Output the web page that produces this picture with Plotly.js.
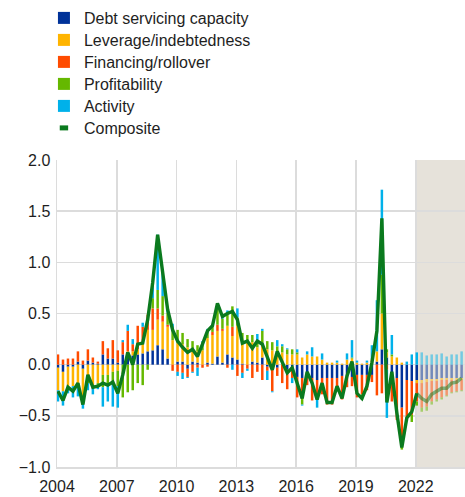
<!DOCTYPE html>
<html>
<head>
<meta charset="utf-8">
<script src="https://cdn.plot.ly/plotly-3.0.1.min.js"></script>
<style>html,body{margin:0;padding:0;background:#fff;}#chart{width:465px;height:497px;}</style>
</head>
<body>
<div id="chart"></div>
<script>
// Quarterly data, 2004Q1 .. 2024Q2
const startYear = 2004;
const firstProjectedBar = 73;   // bars from this index on are projections
const lastActualPoint = 72;     // composite line becomes projection after this index

const debtServicing = [
 -0.03,-0.07,-0.02,-0.02, 0.03,-0.04, 0.04, 0.02, 0.01, 0.10,
  0.06, 0.06, 0.02, 0.10, 0.10, 0.09, 0.10, 0.11, 0.13, 0.14,
  0.19, 0.15, 0.06, 0.00, 0.03, 0.03,-0.04, 0.03, 0.02, 0.00,
  0.02, 0.01, 0.08, 0.02, 0.10, 0.07, 0.05, 0.01, 0.00, 0.03,
  0.02, 0.07,-0.02, 0.01,-0.03, 0.00,-0.05,-0.03,-0.12,-0.13,
 -0.10,-0.13,-0.15,-0.13,-0.13,-0.13,-0.13,-0.11,-0.12,-0.12,
 -0.10,-0.10,-0.10,-0.10, 0.03, 0.15, 0.07,-0.15,-0.13,-0.42,
 -0.15,-0.16,-0.15,-0.15,-0.14,-0.14,-0.14,-0.13,-0.13,-0.13,
 -0.13,-0.13];
const leverage = [
 -0.22,-0.19,-0.21,-0.19,-0.18,-0.29,-0.15,-0.20,-0.18,-0.10,
 -0.10,-0.07,-0.06, 0.00, 0.03, 0.04, 0.05, 0.10, 0.21, 0.20,
  0.25, 0.27, 0.31, 0.24, 0.18, 0.17, 0.17, 0.13, 0.11, 0.14,
  0.24, 0.28, 0.25, 0.31, 0.28, 0.21, 0.33, 0.22, 0.22, 0.19,
  0.15, 0.12, 0.15, 0.13, 0.12, 0.12, 0.10, 0.10, 0.10, 0.07,
  0.10, 0.08, 0.08, 0.05, 0.02, 0.02, 0.02, 0.01, 0.05, 0.06,
  0.02, 0.01, 0.02, 0.05, 0.10, 0.35, 0.05, 0.08, 0.07, 0.02,
  0.00, 0.00,-0.03,-0.03,-0.03,-0.02,-0.02,-0.02,-0.02,-0.02,
 -0.02,-0.02];
const financing = [
  0.10, 0.05, 0.06, 0.06, 0.10, 0.04, 0.11, 0.05, 0.02, 0.13,
  0.10, 0.18, 0.12, 0.12, 0.20, 0.07, 0.23, 0.16, 0.15, 0.21,
  0.11, 0.06, 0.02,-0.06,-0.07,-0.08,-0.08,-0.07,-0.03,-0.03,
 -0.02, 0.03, 0.06, 0.02,-0.03, 0.09,-0.11,-0.08,-0.04,-0.13,
 -0.07,-0.15,-0.04,-0.26,-0.08,-0.18,-0.19,-0.10,-0.20,-0.20,
 -0.10,-0.22,-0.18,-0.16,-0.26,-0.26,-0.12,-0.23,-0.10,-0.09,
 -0.22,-0.19,-0.15,-0.07,-0.30,-0.28,-0.05,-0.21,-0.41,-0.34,
 -0.40,-0.33,-0.18,-0.24,-0.24,-0.20,-0.18,-0.17,-0.15,-0.12,
 -0.11,-0.10];
const profitability = [
  0.00, 0.00, 0.00, 0.00,-0.03, 0.00,-0.03,-0.01,-0.03,-0.12,
 -0.10,-0.12,-0.15,-0.32,-0.27,-0.25,-0.18,-0.20,-0.05, 0.10,
  0.18, 0.19, 0.12, 0.10, 0.13, 0.11, 0.08, 0.07, 0.06, 0.08,
  0.07, 0.06, 0.20, 0.10, 0.12, 0.20, 0.08, 0.08, 0.07, 0.07,
  0.05, 0.14, 0.08, 0.08, 0.06, 0.06, 0.05, 0.05, 0.02,-0.06,
  0.00, 0.00, 0.00, 0.00, 0.00, 0.00, 0.00, 0.00, 0.00, 0.01,
  0.00,-0.05, 0.00, 0.00, 0.00, 0.38, 0.03, 0.02, 0.00,-0.07,
  0.00,-0.07,-0.04,-0.04,-0.04,-0.03,-0.02,-0.02,-0.01,-0.01,
 -0.01,-0.01];
const activity = [
 -0.11,-0.14,-0.05,-0.11,-0.10,-0.10,-0.07,-0.08,-0.03,-0.19,
 -0.16,-0.22,-0.21, 0.02, 0.06, 0.05, 0.00, 0.04, 0.00, 0.15,
  0.54, 0.26, 0.03, 0.06,-0.04,-0.06,-0.01,-0.01,-0.08, 0.01,
  0.02, 0.00, 0.01, 0.02, 0.03,-0.05, 0.09,-0.05,-0.02, 0.00,
  0.08, 0.02,-0.09,-0.01, 0.06, 0.02, 0.01,-0.05, 0.03,-0.01,
  0.03, 0.09,-0.09, 0.06, 0.00, 0.00, 0.02, 0.00, 0.06, 0.17,
  0.02, 0.00, 0.02, 0.14, 0.50, 0.83,-0.47, 0.19, 0.00, 0.00,
  0.03, 0.10, 0.12, 0.12, 0.09, 0.10, 0.10, 0.11, 0.08, 0.10,
  0.10, 0.13];
const composite = [
 -0.26,-0.35,-0.22,-0.26,-0.18,-0.39,-0.10,-0.22,-0.21,-0.18,
 -0.20,-0.17,-0.28,-0.10, 0.12, 0.00, 0.20, 0.21, 0.44, 0.80,
  1.27, 0.93, 0.54, 0.34, 0.23, 0.17, 0.12, 0.15, 0.08, 0.20,
  0.33, 0.38, 0.60, 0.47, 0.50, 0.52, 0.44, 0.21, 0.23, 0.16,
  0.23, 0.20, 0.08,-0.05, 0.13, 0.02,-0.08,-0.03,-0.18,-0.33,
 -0.07,-0.18,-0.34,-0.18,-0.37,-0.37,-0.21,-0.33,-0.11, 0.03,
 -0.28,-0.33,-0.21, 0.02, 0.33, 1.43,-0.37,-0.07,-0.47,-0.81,
 -0.52,-0.46,-0.28,-0.33,-0.36,-0.29,-0.26,-0.23,-0.23,-0.18,
 -0.17,-0.13];

const seriesNames = ['Debt servicing capacity','Leverage/indebtedness','Financing/rollover','Profitability','Activity'];
const seriesColors = ['#003299','#ffb400','#ff4b00','#65b800','#00b1ea'];
const compositeName = 'Composite';
const compositeColor = '#0b7a1e';
const tickYears = [2004,2007,2010,2013,2016,2019,2022];
const projectionStartYear = 2022;

const xs = composite.map((_, i) => startYear + i / 4 + 0.05);
const barOpacity = xs.map((_, i) => i >= firstProjectedBar ? 0.5 : 1);
const xEnd = 2024.47;

const legendIds = ['legend','legend2','legend3','legend4','legend5','legend6'];

const components = [debtServicing, leverage, financing, profitability, activity];
const traces = components.map((vals, j) => ({
  type: 'bar', x: xs, y: vals, name: seriesNames[j], legend: legendIds[j],
  marker: {color: seriesColors[j], opacity: barOpacity, line: {width: 0}},
  hoverinfo: 'skip'
}));

const idxActual = xs.map((_, i) => i).filter(i => i <= lastActualPoint);
const idxProj = xs.map((_, i) => i).filter(i => i >= lastActualPoint);
traces.push({
  type: 'scatter', mode: 'lines', x: idxActual.map(i => xs[i]), y: idxActual.map(i => composite[i]),
  line: {color: compositeColor, width: 3.4}, showlegend: false, hoverinfo: 'skip'
});
traces.push({
  type: 'scatter', mode: 'lines', x: idxProj.map(i => xs[i]), y: idxProj.map(i => composite[i]),
  line: {color: 'rgba(11,122,30,0.5)', width: 3.4}, showlegend: false, hoverinfo: 'skip'
});
// legend entry for the composite line
traces.push({
  type: 'scatter', mode: 'markers', x: [null], y: [null], name: compositeName, legend: legendIds[5],
  marker: {symbol: 'line-ew', size: 6, color: compositeColor, line: {width: 5, color: compositeColor}},
  hoverinfo: 'skip'
});

const font = {family: 'Arial, "Liberation Sans", sans-serif', size: 16, color: '#1e1e1e'};
const gridColor = '#dcdcdc';
const plotTop = 160, plotH = 307;
const legendRowsPx = [18, 40, 62, 84, 106, 128];

const layout = {
  width: 465, height: 497,
  margin: {l: 57, r: 0, t: plotTop, b: 30},
  paper_bgcolor: '#ffffff', plot_bgcolor: '#ffffff',
  font: font,
  barmode: 'relative', bargap: 0.5,
  showlegend: true,
  xaxis: {range: [startYear, xEnd], tickmode: 'array', tickvals: tickYears, ticktext: tickYears.map(String),
          showgrid: true, gridcolor: gridColor, gridwidth: 1.5, zeroline: false, ticks: '',
          showline: true, linecolor: gridColor, linewidth: 1.5, tickfont: font, ticklabelstandoff: 4},
  yaxis: {range: [-1, 2], dtick: 0.5, tickformat: '.1f', showgrid: true, gridcolor: gridColor, gridwidth: 1.5,
          zeroline: false, ticks: '', showline: true, linecolor: gridColor, linewidth: 1.5, tickfont: font,
          ticklabelstandoff: 2},
  shapes: [{type: 'rect', xref: 'x', yref: 'paper', x0: projectionStartYear, x1: xEnd, y0: 0, y1: 1,
            fillcolor: '#e6e2da', line: {width: 0}, layer: 'below'}],
  hovermode: false
};
legendIds.forEach((id, j) => {
  layout[id] = {x: -0.032, xanchor: 'left', y: (plotTop + plotH - legendRowsPx[j]) / plotH, yanchor: 'middle',
                orientation: 'v', font: font, bgcolor: 'rgba(0,0,0,0)'};
});

Plotly.newPlot('chart', traces, layout, {displayModeBar: false, staticPlot: true});
</script>
</body>
</html>
